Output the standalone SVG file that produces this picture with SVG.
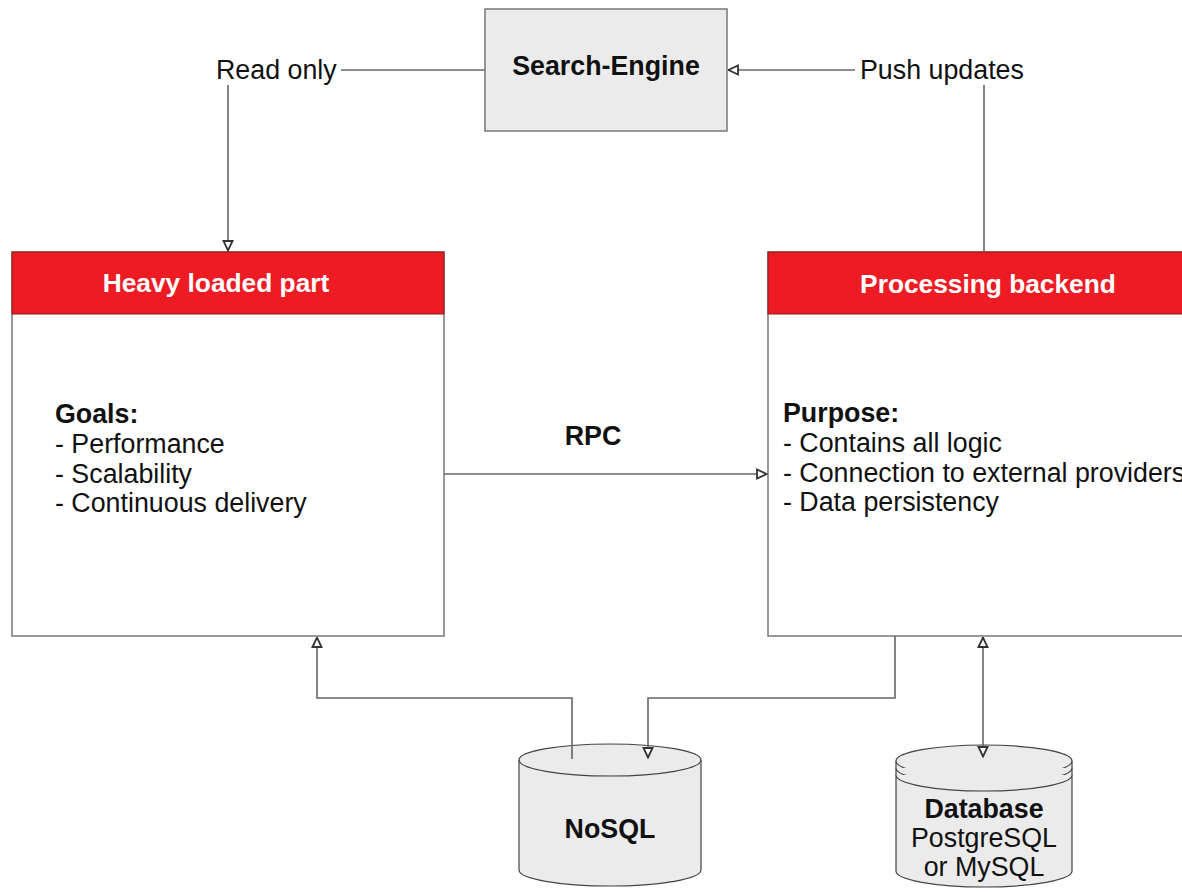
<svg xmlns="http://www.w3.org/2000/svg" width="1182" height="892" viewBox="0 0 1182 892">
<style>
text{font-family:"Liberation Sans",Arial,sans-serif;font-size:26.8px;fill:#111}
.b{font-weight:bold}
.w{fill:#fff;font-weight:bold;font-size:26.3px}
.box{fill:#fff;stroke:#777;stroke-width:1.5}
.hdr{fill:#ED1C24;stroke:#8a1a1a;stroke-width:1}
.gray{fill:#ebebeb;stroke:#777;stroke-width:1.5}
.cyl{fill:#ebebeb;stroke:#444;stroke-width:1.2}
.cn{fill:none;stroke:#666;stroke-width:1.6}
</style>
<defs>
<marker id="ah" viewBox="0 0 12 12" refX="11.5" refY="6" markerWidth="12" markerHeight="12" markerUnits="userSpaceOnUse" orient="auto-start-reverse">
<path d="M1.5,1.5 L11,6 L1.5,10.5 Z" fill="#fff" stroke="#333" stroke-width="1.8"/>
</marker>
</defs>

<g id="search-engine">
<rect class="gray" x="485" y="9" width="242" height="122"/>
<text class="b" x="606" y="75" text-anchor="middle">Search-Engine</text>
</g>

<g id="heavy-loaded-part">
<rect class="box" x="12" y="252" width="432" height="384"/>
<rect class="hdr" x="12" y="252" width="432" height="62"/>
<text class="w" x="216" y="292" text-anchor="middle">Heavy loaded part</text>
<text class="b" x="55" y="423">Goals:</text>
<text x="55" y="453">- Performance</text>
<text x="55" y="483">- Scalability</text>
<text x="55" y="512">- Continuous delivery</text>
</g>

<g id="processing-backend">
<rect class="box" x="768" y="252" width="440" height="384"/>
<rect class="hdr" x="768" y="252" width="440" height="62"/>
<text class="w" x="988" y="293" text-anchor="middle">Processing backend</text>
<text class="b" x="783" y="422">Purpose:</text>
<text x="783" y="452">- Contains all logic</text>
<text x="783" y="482">- Connection to external providers</text>
<text x="783" y="511">- Data persistency</text>
</g>

<g id="nosql">
<path class="cyl" d="M519,760 A91,16 0 0 1 701,760 L701,870 A91,16 0 0 1 519,870 Z"/>
<path class="cyl" fill="none" d="M519,760 A91,16 0 0 0 701,760"/>
<text class="b" x="610" y="838" text-anchor="middle">NoSQL</text>
</g>

<g id="database">
<path class="cyl" d="M896,761 A88,16 0 0 1 1072,761 L1072,871 A88,16 0 0 1 896,871 Z"/>
<path class="cyl" d="M896,761 A88,16 0 0 0 1072,761"/>
<path class="cyl" fill="none" d="M896,768 A88,16 0 0 0 1072,768"/>
<path class="cyl" fill="none" d="M896,775 A88,16 0 0 0 1072,775"/>
<text class="b" x="984" y="818" text-anchor="middle">Database</text>
<text x="984" y="847" text-anchor="middle">PostgreSQL</text>
<text x="984" y="876" text-anchor="middle">or MySQL</text>
</g>

<g id="connectors">
<path class="cn" d="M485,70 L341,70"/>
<text x="216" y="79">Read only</text>
<path class="cn" d="M228,85 L228,251" marker-end="url(#ah)"/>
<path class="cn" d="M984,252 L984,85"/>
<text x="860" y="79">Push updates</text>
<path class="cn" d="M855,70 L728,70" marker-end="url(#ah)"/>
<text class="b" x="593" y="445" text-anchor="middle">RPC</text>
<path class="cn" d="M444,474 L767,474" marker-end="url(#ah)"/>
<path class="cn" d="M572,759 L572,698 L317,698 L317,637" marker-end="url(#ah)"/>
<path class="cn" d="M895,636 L895,698 L648,698 L648,758" marker-end="url(#ah)"/>
<path class="cn" d="M983,637 L983,757" marker-start="url(#ah)" marker-end="url(#ah)"/>
</g>
</svg>
